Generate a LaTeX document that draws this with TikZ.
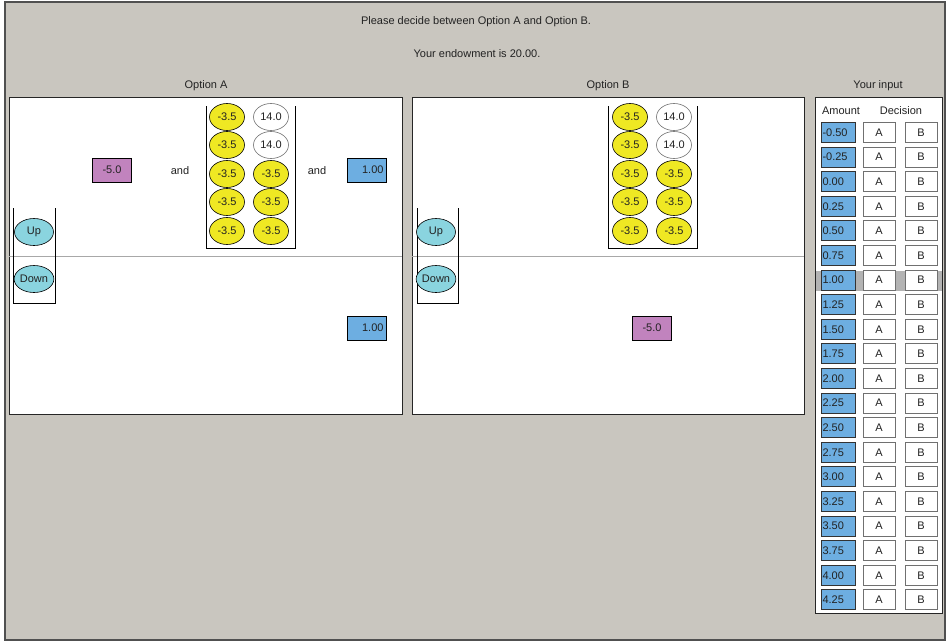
\documentclass[tikz,border=0pt]{standalone}
\usepackage{fontspec}
\setmainfont{Liberation Sans}
\usetikzlibrary{shapes.geometric}
\definecolor{bg}{HTML}{C9C6BF}
\definecolor{framec}{HTML}{505050}
\definecolor{ballY}{HTML}{EFE823}
\definecolor{cyanB}{HTML}{8AD4DF}
\definecolor{purp}{HTML}{C183BE}
\definecolor{blueB}{HTML}{6DAEE1}
\definecolor{hilite}{HTML}{B3B3B3}
\definecolor{txt}{HTML}{222222}
\definecolor{divc}{HTML}{A8A8A8}
\definecolor{wgray}{HTML}{707070}
\tikzset{
  lbl/.style={text=txt, inner sep=0pt},
  ball/.style={ellipse, draw=black, fill=ballY, text=txt, minimum width=35pt, minimum height=27pt, inner sep=0pt, line width=0.6pt},
  wball/.style={ball, fill=white, draw=wgray},
  updown/.style={ellipse, draw=black, fill=cyanB, text=txt, minimum width=39pt, minimum height=27pt, inner sep=0pt, line width=0.6pt},
  purbox/.style={rectangle, draw=black, fill=purp, text=txt, minimum width=39pt, minimum height=24pt, inner sep=0pt, line width=0.6pt},
  bluebox/.style={rectangle, draw=black, fill=blueB, text=txt, text width=33pt, align=right, inner xsep=3pt, inner ysep=0pt, minimum height=24pt, line width=0.6pt},
  amtbox/.style={rectangle, draw=black!80, fill=blueB, text=txt, text width=31pt, align=left, inner xsep=1.5pt, inner ysep=0pt, minimum height=20pt, line width=1pt},
  choicebox/.style={rectangle, draw=wgray, fill=white, text=txt, minimum width=32pt, minimum height=20pt, inner sep=0pt, line width=0.9pt},
  panel/.style={draw=black!85, fill=white, line width=0.7pt},
  bracket/.style={draw=black, line width=0.7pt},
}
\begin{document}
\begin{tikzpicture}[x=1pt,y=-1pt, font=\fontsize{11}{13}\selectfont]
\useasboundingbox (0,0) rectangle (948,642);
\fill[white] (0,0) rectangle (948,642);
\draw[framec, fill=bg, line width=1.5pt] (5,2) rectangle (945,640);

% headings
\node[lbl] (title) at (476,22) {Please decide between Option A and Option B.};
\node[lbl] (endow) at (477,54) {Your endowment is 20.00.};
\node[lbl] (optA) at (206,86) {Option A};
\node[lbl] (optB) at (608,86) {Option B};
\node[lbl] (inputT) at (878,86) {Your input};

% panels
\draw[panel] (9,97) rectangle (402,414);
\draw[panel] (412,97) rectangle (804,414);
\draw[divc, line width=0.8pt] (9,256) -- (402,256);
\draw[divc, line width=0.8pt] (412,256) -- (804,256);

% ---------- Option A ----------
\draw[bracket] (13,208) -- (13,303) -- (55,303) -- (55,208);
\node[updown] (upA) at (34,232) {Up};
\node[updown] (downA) at (34,279) {Down};

\node[purbox] (payA) at (112,170) {-5.0};
\node[lbl] (and1) at (180,171) {and};
\draw[bracket] (206,106) -- (206,248) -- (295,248) -- (295,106);
\foreach \r/\y in {1/117,2/145,3/174,4/202,5/231}{
  \node[ball] (aL\r) at (227,\y) {-3.5};
}
\node[wball] (aR1) at (271,117) {14.0};
\node[wball] (aR2) at (271,145) {14.0};
\node[ball] (aR3) at (271,174) {-3.5};
\node[ball] (aR4) at (271,202) {-3.5};
\node[ball] (aR5) at (271,231) {-3.5};
\node[lbl] (and2) at (317,171) {and};
\node[bluebox] (amtA1) at (367,170) {1.00};
\node[bluebox] (amtA2) at (367,328) {1.00};

% ---------- Option B ----------
\draw[bracket] (417,208) -- (417,303) -- (458,303) -- (458,208);
\node[updown] (upB) at (436,232) {Up};
\node[updown] (downB) at (436,279) {Down};
\draw[bracket] (608,106) -- (608,248) -- (697,248) -- (697,106);
\foreach \r/\y in {1/117,2/145,3/174,4/202,5/231}{
  \node[ball] (bL\r) at (630,\y) {-3.5};
}
\node[wball] (bR1) at (674,117) {14.0};
\node[wball] (bR2) at (674,145) {14.0};
\node[ball] (bR3) at (674,174) {-3.5};
\node[ball] (bR4) at (674,202) {-3.5};
\node[ball] (bR5) at (674,231) {-3.5};
\node[purbox] (payB) at (652,328) {-5.0};

% ---------- Your input ----------
\draw[panel] (815,97) rectangle (942,613);
\fill[hilite] (815.5,271) rectangle (941.5,291);
\node[lbl] (amtHead) at (841,111) {Amount};
\node[lbl] (decHead) at (901,111) {Decision};
\foreach \v [count=\i from 0] in {-0.50,-0.25,0.00,0.25,0.50,0.75,1.00,1.25,1.50,1.75,2.00,2.25,2.50,2.75,3.00,3.25,3.50,3.75,4.00,4.25}{
  \pgfmathsetmacro{\yy}{132.5+24.6*\i}
  \node[amtbox] (amt\i) at (838,\yy) {\v};
  \node[choicebox] (ca\i) at (879,\yy) {A};
  \node[choicebox] (cb\i) at (921,\yy) {B};
}
\end{tikzpicture}
\end{document}
